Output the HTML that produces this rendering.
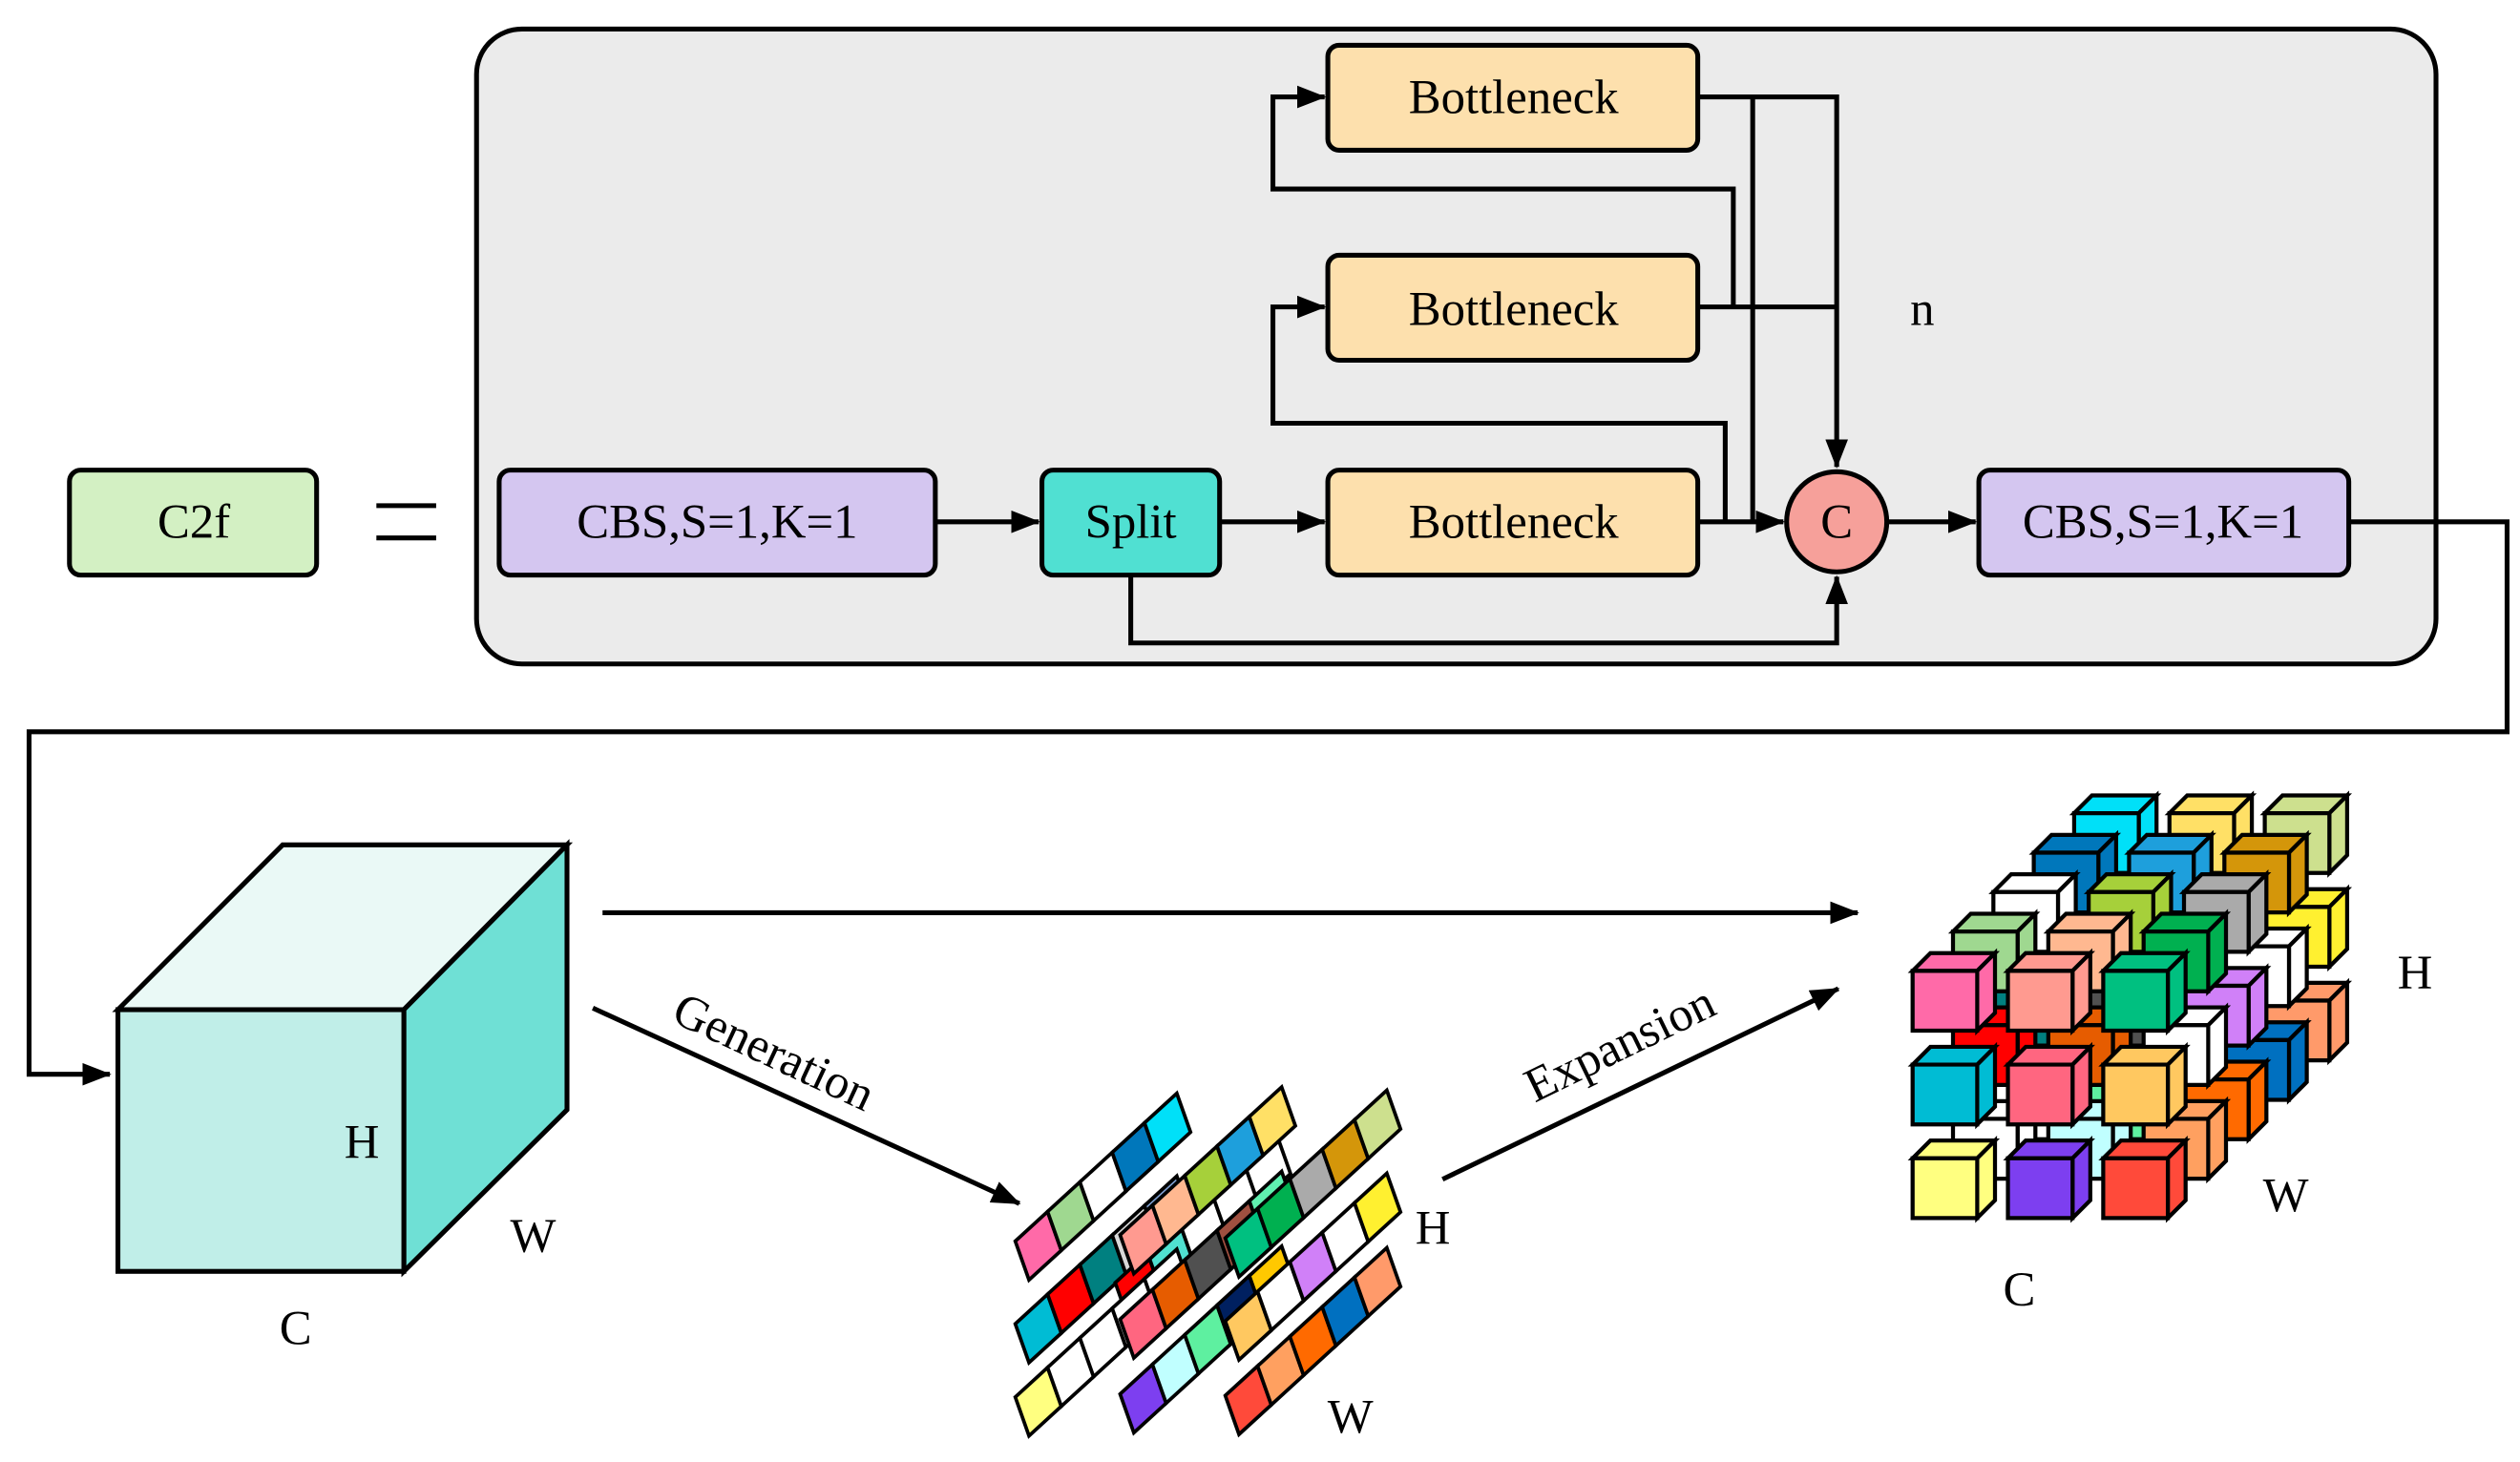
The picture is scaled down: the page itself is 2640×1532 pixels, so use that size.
<!DOCTYPE html>
<html><head><meta charset="utf-8"><style>
html,body{margin:0;padding:0;background:#fff;}
svg{display:block;}
text{font-family:"Liberation Serif",serif;fill:#000;}
</style></head><body>
<svg id="s" width="2640" height="1532" viewBox="0 0 1560 905" preserveAspectRatio="none" xmlns="http://www.w3.org/2000/svg">
<defs>
<marker id="ahb" markerWidth="18" markerHeight="14" refX="17" refY="7" orient="auto" markerUnits="userSpaceOnUse"><path d="M0,0 L18,7 L0,14 z" fill="#000"/></marker>
</defs>
<rect x="295" y="18" width="1213" height="393" rx="28" fill="#ebebeb" stroke="#000" stroke-width="3"/>
<g stroke="#000" stroke-width="3">
<rect x="43" y="291" width="153" height="65" rx="7" fill="#d3f0c3"/>
<rect x="309" y="291" width="270" height="65" rx="7" fill="#d4c6f0"/>
<rect x="645" y="291" width="110" height="65" rx="7" fill="#50e0d2"/>
<rect x="822" y="291" width="229" height="65" rx="7" fill="#fde0ad"/>
<rect x="822" y="158" width="229" height="65" rx="7" fill="#fde0ad"/>
<rect x="822" y="28" width="229" height="65" rx="7" fill="#fde0ad"/>
<rect x="1225" y="291" width="229" height="65" rx="7" fill="#d4c6f0"/>
<circle cx="1137" cy="323" r="31" fill="#f6a09a"/>
</g>
<g stroke="#000" stroke-width="3" fill="none">
<line x1="233" y1="313" x2="270" y2="313"/><line x1="233" y1="333" x2="270" y2="333"/>
<line x1="579" y1="323" x2="643" y2="323" marker-end="url(#ahb)"/>
<line x1="755" y1="323" x2="820" y2="323" marker-end="url(#ahb)"/>
<line x1="1051" y1="323" x2="1104" y2="323" marker-end="url(#ahb)"/>
<line x1="1168" y1="323" x2="1223" y2="323" marker-end="url(#ahb)"/>
<polyline points="1051,60 1137,60 1137,289" marker-end="url(#ahb)"/>
<polyline points="1051,190 1137,190"/>
<line x1="1085" y1="60" x2="1085" y2="323"/>
<polyline points="1073,190 1073,117 788,117 788,60 820,60" marker-end="url(#ahb)"/>
<polyline points="1068,323 1068,262 788,262 788,190 820,190" marker-end="url(#ahb)"/>
<polyline points="700,356 700,398 1137,398 1137,357" marker-end="url(#ahb)"/>
<polyline points="1454,323 1552,323 1552,453 18,453 18,665 68,665" marker-end="url(#ahb)"/>
<line x1="373" y1="565" x2="1150" y2="565" marker-end="url(#ahb)"/>
<line x1="367" y1="624" x2="631" y2="745" marker-end="url(#ahb)"/>
<line x1="893" y1="730" x2="1138" y2="612" marker-end="url(#ahb)"/>
</g>
<g stroke="#000" stroke-width="3" stroke-linejoin="miter">
<polygon points="73,625 175,523 351,523 250,625" fill="#eaf9f6"/>
<polygon points="250,625 351,523 351,687 250,787" fill="#6fe0d5"/>
<rect x="73" y="625" width="177" height="162" fill="#c0eee8"/>
</g>
<g id="slices" stroke="#000" stroke-width="2.2" stroke-linejoin="miter"></g>
<g id="cubes" stroke="#000" stroke-width="2.5"></g>
<g font-size="30" text-anchor="middle">
<text x="120" y="333">C2f</text>
<text x="444" y="333">CBS,S=1,K=1</text>
<text x="700" y="333">Split</text>
<text x="937" y="333">Bottleneck</text>
<text x="937" y="201">Bottleneck</text>
<text x="937" y="70">Bottleneck</text>
<text x="1339" y="333">CBS,S=1,K=1</text>
<text x="1137" y="333">C</text>
<text x="1190" y="201">n</text>
<text x="224" y="717">H</text>
<text x="330" y="775">W</text>
<text x="183" y="832">C</text>
<text x="887" y="770">H</text>
<text x="836" y="887">W</text>
<text x="1495" y="612">H</text>
<text x="1415" y="750">W</text>
<text x="1250" y="808">C</text>
<text transform="translate(475,660) rotate(25)">Generation</text>
<text transform="translate(1007,655) rotate(-26)">Expansion</text>
</g>
</svg>
<script>
var NS="http://www.w3.org/2000/svg";
function poly(g,pts,fill){var p=document.createElementNS(NS,"polygon");p.setAttribute("points",pts.map(function(a){return a[0].toFixed(1)+","+a[1].toFixed(1)}).join(" "));p.setAttribute("fill",fill);g.appendChild(p);}
var sg=document.getElementById("slices");
var W="#ffffff";
var strips=[
[628.5,819.5,["#00bcd4","#ff0000","#008080","#d8d8d8","#80a0d0"]],
[690.4,794,["#ff0000","#50e0d0",W,W,W]],
[628.5,864.8,["#ffff80",W,W,W,W]],
[693.4,862.9,["#7d3ff0","#c0ffff","#5ef0a0","#002060","#ffc800"]],
[693.4,816.6,["#ff6680","#e65c00","#505050","#a05040","#60f0b0"]],
[628.5,768.3,["#ff6aa8","#9fd890",W,"#0077bb","#00e0f8"]],
[693.4,764.4,["#ff9a90","#ffb890","#a6d03a","#1e9fdc","#ffe066"]],
[758.5,766.4,["#00c080","#00b050","#aaaaaa","#d4960a","#cde08e"]],
[758.5,817.8,["#ffc860",W,"#d080f8",W,"#fff030"]],
[758.5,863.9,["#ff4a3a","#ffa060","#ff6a00","#0070c0","#ff9a6a"]]];
var ux=20,uy=-18.3,vx=8.5,vy=24;
strips.forEach(function(s){var x=s[0],y=s[1];for(var i=0;i<5;i++){var px=x+ux*i,py=y+uy*i;poly(sg,[[px,py],[px+ux,py+uy],[px+ux+vx,py+uy+vy],[px+vx,py+vy]],s[2][i]);}});
var cg=document.getElementById("cubes");
function cube(x,y,c){var w=40,h=37,d=11;
poly(cg,[[x,y],[x+d,y-d],[x+w+d,y-d],[x+w,y]],c);
poly(cg,[[x+w,y],[x+w+d,y-d],[x+w+d,y+h-d],[x+w,y+h]],c);
poly(cg,[[x,y],[x+w,y],[x+w,y+h],[x,y+h]],c);}
var layers=[[4,["#00e0f8","#ffe066","#cde08e",W,W,"#fff030",W,W,"#ff9a6a"]],
[3,["#0077bb","#1e9fdc","#d4960a",W,W,W,W,W,"#0070c0"]],
[2,[W,"#a6d03a","#aaaaaa","#008080","#505050","#d080f8",W,"#5ef0a0","#ff6a00"]],
[1,["#9fd890","#ffb890","#00b050","#ff0000","#e65c00",W,W,"#c0ffff","#ffa060"]],
[0,["#ff6aa8","#ff9a90","#00c080","#00bcd4","#ff6680","#ffc860","#ffff80","#7d3ff0","#ff4a3a"]]];
layers.forEach(function(L){var k=L[0];for(var j=0;j<3;j++)for(var i=2;i>=0;i--){cube(1184+59*i+25*k,601+58*j-24.4*k,L[1][j*3+i]);}});
</script>
</body></html>
